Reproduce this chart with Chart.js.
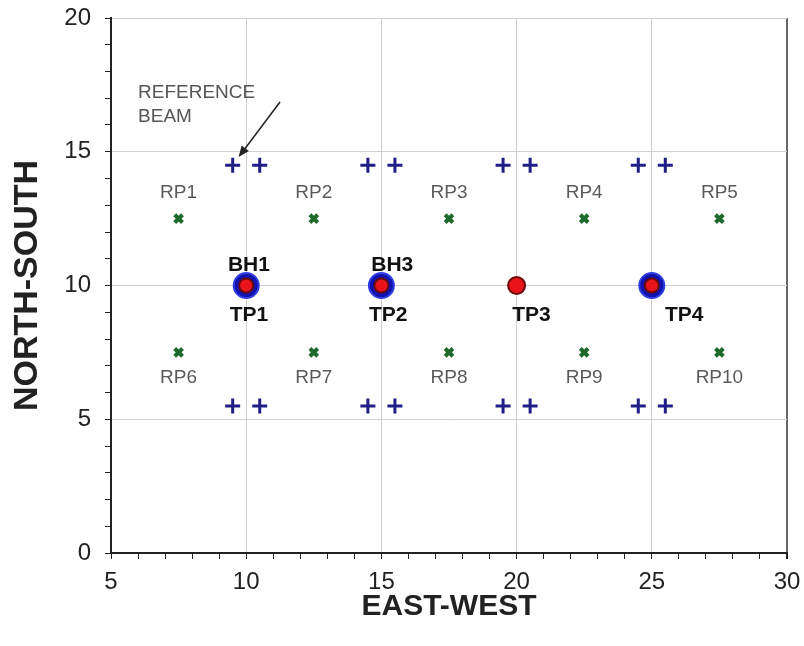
<!DOCTYPE html>
<html>
<head>
<meta charset="utf-8">
<script src="https://cdn.jsdelivr.net/npm/chart.js@4.4.0/dist/chart.umd.min.js"></script>
<style>
  html, body { margin: 0; padding: 0; background: #fff; }
  #wrap { width: 804px; height: 646px; }
</style>
</head>
<body>
<div id="wrap"><canvas id="c" width="804" height="646"></canvas></div>
<script>
// ---- data ----
const beamX = [9.5, 10.5, 14.5, 15.5, 19.5, 20.5, 24.5, 25.5];
const beamRowsY = [14.5, 5.5];
const rpX = [7.5, 12.5, 17.5, 22.5, 27.5];
const rpRowsY = [12.5, 7.5];
const rpNames = ['RP1','RP2','RP3','RP4','RP5','RP6','RP7','RP8','RP9','RP10'];
const tpX = [10, 15, 20, 25];
const tpY = 10;
const tpNames = ['TP1','TP2','TP3','TP4'];
const tpLabelX = [10.1, 15.25, 20.55, 26.2];
const bhX = [10, 15, 25];
const bhNames = ['BH1','BH3'];
const bhLabelX = [10.1, 15.4];
const xTicksMajor = [5, 10, 15, 20, 25, 30];
const yTicksMajor = [0, 5, 10, 15, 20];

const beamPts = [];
beamRowsY.forEach(y => beamX.forEach(x => beamPts.push({x, y})));
const rpPts = [];
rpRowsY.forEach(y => rpX.forEach(x => rpPts.push({x, y})));
const tpPts = tpX.map(x => ({x, y: tpY}));
const bhPts = bhX.map(x => ({x, y: tpY}));

const FONT = "'Liberation Sans', Arial, sans-serif";

const labelPlugin = {
  id: 'labels',
  afterDatasetsDraw(chart) {
    const {ctx, scales: {x, y}} = chart;
    ctx.save();
    ctx.textAlign = 'center';
    ctx.textBaseline = 'middle';
    // RP labels
    ctx.font = "19px " + FONT;
    ctx.fillStyle = '#5a5a5a';
    rpPts.forEach((p, i) => {
      const ly = p.y > 10 ? p.y + 0.95 : p.y - 0.95;
      ctx.fillText(rpNames[i], x.getPixelForValue(p.x), y.getPixelForValue(ly));
    });
    // BH / TP labels
    ctx.font = "bold 21px " + FONT;
    ctx.fillStyle = '#111';
    bhNames.forEach((n, i) => ctx.fillText(n, x.getPixelForValue(bhLabelX[i]), y.getPixelForValue(10.77)));
    tpNames.forEach((n, i) => ctx.fillText(n, x.getPixelForValue(tpLabelX[i]), y.getPixelForValue(8.9)));
    // reference beam annotation
    ctx.font = "19px " + FONT;
    ctx.fillStyle = '#555';
    ctx.textAlign = 'left';
    ctx.fillText('REFERENCE', x.getPixelForValue(6.0), y.getPixelForValue(17.2));
    ctx.fillText('BEAM', x.getPixelForValue(6.0), y.getPixelForValue(16.3));
    // arrow
    const x1 = x.getPixelForValue(11.25), y1 = y.getPixelForValue(16.86);
    const x2 = x.getPixelForValue(9.72), y2 = y.getPixelForValue(14.8);
    const ang = Math.atan2(y2 - y1, x2 - x1);
    ctx.strokeStyle = '#222';
    ctx.lineWidth = 1.5;
    ctx.beginPath();
    ctx.moveTo(x1, y1);
    ctx.lineTo(x2 - 8 * Math.cos(ang), y2 - 8 * Math.sin(ang));
    ctx.stroke();
    ctx.fillStyle = '#222';
    ctx.beginPath();
    ctx.moveTo(x2, y2);
    ctx.lineTo(x2 - 11 * Math.cos(ang) + 4.5 * Math.sin(ang), y2 - 11 * Math.sin(ang) - 4.5 * Math.cos(ang));
    ctx.lineTo(x2 - 11 * Math.cos(ang) - 4.5 * Math.sin(ang), y2 - 11 * Math.sin(ang) + 4.5 * Math.cos(ang));
    ctx.closePath();
    ctx.fill();
    ctx.restore();
  }
};

new Chart(document.getElementById('c'), {
  type: 'scatter',
  data: {
    datasets: [
      { label: 'TP', data: tpPts, pointStyle: 'circle', pointRadius: [7, 7, 8.5, 7], pointHoverRadius: 7,
        backgroundColor: '#e8141a', borderColor: '#6a0a0a', borderWidth: 2 },
      { label: 'BH', data: bhPts, pointStyle: 'circle', pointRadius: 12.5, pointHoverRadius: 12.5,
        backgroundColor: '#1212b0', borderColor: '#3040e0', borderWidth: 2 },
      { label: 'RP', data: rpPts, pointStyle: 'crossRot', pointRadius: 5.5, pointHoverRadius: 5.5,
        borderColor: '#1d6a2c', borderWidth: 4, backgroundColor: '#1d6a2c' },
      { label: 'Beams', data: beamPts, pointStyle: 'cross', pointRadius: 7.5, pointHoverRadius: 7.5,
        borderColor: '#1e1e86', borderWidth: 3, backgroundColor: '#1e1e86' }
    ]
  },
  options: {
    responsive: false,
    animation: false,
    events: [],
    layout: { padding: { top: 18, right: 17, left: 0, bottom: 0 } },
    plugins: { legend: { display: false }, tooltip: { enabled: false } },
    scales: {
      x: {
        type: 'linear', min: 5, max: 30,
        afterFit(s) { s.height = 93; s.paddingLeft = 0; s.paddingRight = 0; },
        afterBuildTicks(s) { s.ticks = []; for (let v = 5; v <= 30; v++) s.ticks.push({value: v}); },
        ticks: {
          autoSkip: false, maxRotation: 0, padding: 9,
          color: '#222', font: { family: FONT, size: 24 },
          callback: v => xTicksMajor.includes(v) ? String(v) : ''
        },
        grid: {
          color: c => (c.tick && c.tick.value === 30) ? '#666' : ((c.tick && c.tick.value % 5 === 0) ? '#cfcfcf' : 'rgba(0,0,0,0)'),
          lineWidth: c => (c.tick && c.tick.value === 30) ? 2 : 1,
          tickColor: '#222', tickLength: 6, drawTicks: true
        },
        border: { display: true, color: '#222', width: 2 },
        title: { display: true, text: 'EAST-WEST', color: '#222', font: { family: FONT, size: 30, weight: 'bold' }, padding: { top: 0, bottom: 21 } }
      },
      y: {
        type: 'linear', min: 0, max: 20,
        afterFit(s) { s.width = 111; s.paddingTop = 0; s.paddingBottom = 0; },
        afterBuildTicks(s) { s.ticks = []; for (let v = 0; v <= 20; v++) s.ticks.push({value: v}); },
        ticks: {
          autoSkip: false, padding: 14,
          color: '#222', font: { family: FONT, size: 24 },
          callback: v => yTicksMajor.includes(v) ? String(v) : ''
        },
        grid: {
          color: c => (c.tick && c.tick.value % 5 === 0) ? '#cfcfcf' : 'rgba(0,0,0,0)',
          tickColor: '#222', tickLength: 6, drawTicks: true
        },
        border: { display: true, color: '#222', width: 2 },
        title: { display: true, text: 'NORTH-SOUTH', color: '#222', font: { family: FONT, size: 34, weight: 'bold' }, padding: { top: 7, bottom: 0 } }
      }
    }
  },
  plugins: [labelPlugin]
});
</script>
</body>
</html>
